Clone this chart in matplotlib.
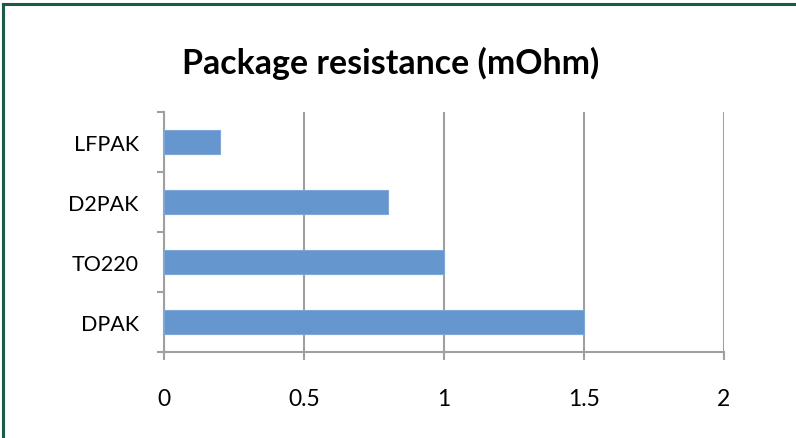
import numpy as np
import matplotlib.pyplot as plt

packages = ['DPAK', 'TO220', 'D2PAK', 'LFPAK']
resistance = [1.5, 1.0, 0.8, 0.2]
xticks = [0, 0.5, 1, 1.5, 2]
xlabels = ['0', '0.5', '1', '1.5', '2']

plt.rcParams['font.family'] = ['Lato', 'DejaVu Sans']

fig = plt.figure(figsize=(7.96, 4.39), dpi=100)
ax = fig.add_axes([164/796, 1-353/439, 560/796, 240/439])

grey = '#a0a0a0'
y = np.arange(len(packages))
ax.barh(y, resistance, height=0.4, color='#6596cd', edgecolor='#7fa8d8', linewidth=0.8, zorder=3)

ax.set_xlim(0, 2)
ax.set_ylim(-0.5, len(packages)-0.5)
ax.set_xticks(xticks)
ax.set_xticklabels(xlabels, fontsize=16.5)
ax.set_yticks(y)
ax.set_yticklabels(packages, fontsize=15.5)
ax.set_yticks(np.arange(-0.5, len(packages)), minor=True)
ax.tick_params(axis='y', which='major', length=0, pad=18)
ax.tick_params(axis='y', which='minor', length=5, width=1.5, color=grey)
ax.tick_params(axis='x', length=5.8, width=1.5, color=grey, pad=20)
ax.grid(axis='x', color=grey, linewidth=1.5, zorder=0)

for s in ['top', 'right']:
    ax.spines[s].set_visible(False)
for s in ['left', 'bottom']:
    ax.spines[s].set_color(grey)
    ax.spines[s].set_linewidth(1.5)

fig.text(391/796, 1-63/439, 'Package resistance (mOhm)', ha='center', va='center',
         fontsize=24.4, fontweight='bold')

# frame (only top and left visible in the crop)
fig.add_artist(plt.Line2D([3/796, 3/796], [0, 1-5/439], color='#1b5a48', linewidth=2.2,
                          transform=fig.transFigure))
fig.add_artist(plt.Line2D([3/796, 1], [1-5/439, 1-5/439], color='#1b5a48', linewidth=2.2,
                          transform=fig.transFigure))

fig.savefig('out.png', dpi=100)
